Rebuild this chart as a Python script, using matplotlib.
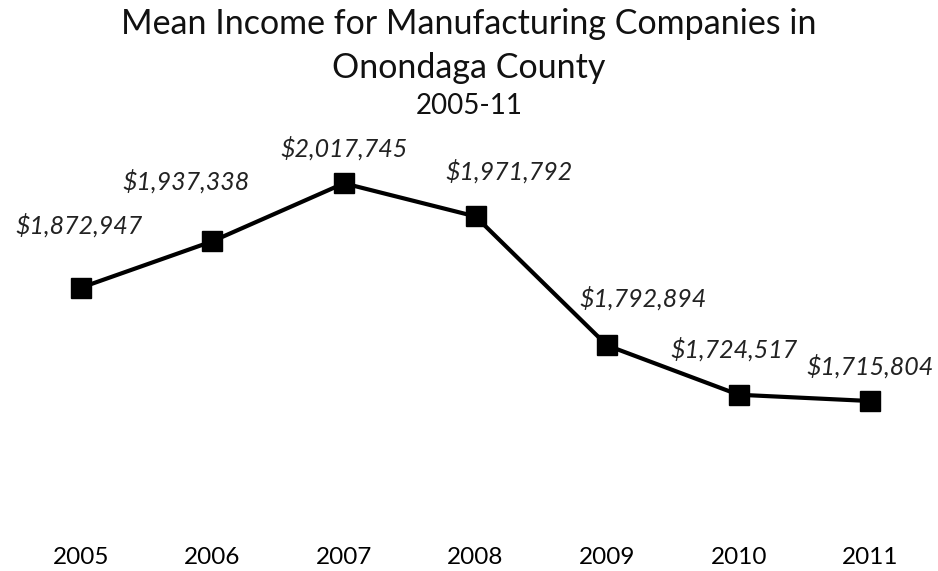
import numpy as np
import matplotlib
matplotlib.use('Agg')
import matplotlib.pyplot as plt

# Chart data
years = ['2005', '2006', '2007', '2008', '2009', '2010', '2011']
mean_income = [1872947, 1937338, 2017745, 1971792, 1792894, 1724517, 1715804]

# Label offsets in pixels (dx, dy) relative to each point
label_offsets = [(-2, 62), (-26, 60), (0, 35), (34, 45), (36, 47), (-5, 45), (0, 35)]

plt.rcParams['font.family'] = ['Lato', 'DejaVu Sans']

fig = plt.figure(figsize=(9.38, 5.71), dpi=100)
W, H = 938, 571
ax = fig.add_axes([15 / W, 1 - 535 / H, (936 - 15) / W, (535 - 124) / H])

x = np.arange(len(years))
ax.plot(x, mean_income, color='black', linewidth=3, marker='s',
        markersize=14, markerfacecolor='black', markeredgecolor='black')

for xi, val, (dx, dy) in zip(x, mean_income, label_offsets):
    ax.annotate('${:,}'.format(val), (xi, val), xytext=(dx * 0.72, dy * 0.72),
                textcoords='offset points', ha='center', va='center',
                fontsize=18, style='italic', color='#222222')

ax.set_xlim(-0.5, len(years) - 0.5)
ax.set_ylim(1530000, 2100000)
ax.set_xticks(x)
ax.set_xticklabels(years, fontsize=17.5)
ax.tick_params(axis='x', length=0, pad=9)
ax.set_yticks([])
for s in ax.spines.values():
    s.set_visible(False)

fig.text(0.5, 1 - 24 / H, 'Mean Income for Manufacturing Companies in',
         ha='center', va='center', fontsize=24.5, color='#111111')
fig.text(0.5, 1 - 68 / H, 'Onondaga County',
         ha='center', va='center', fontsize=24.5, color='#111111')
fig.text(0.5, 1 - 106 / H, '2005-11',
         ha='center', va='center', fontsize=20, color='#111111')

fig.savefig('out.png', dpi=100)
